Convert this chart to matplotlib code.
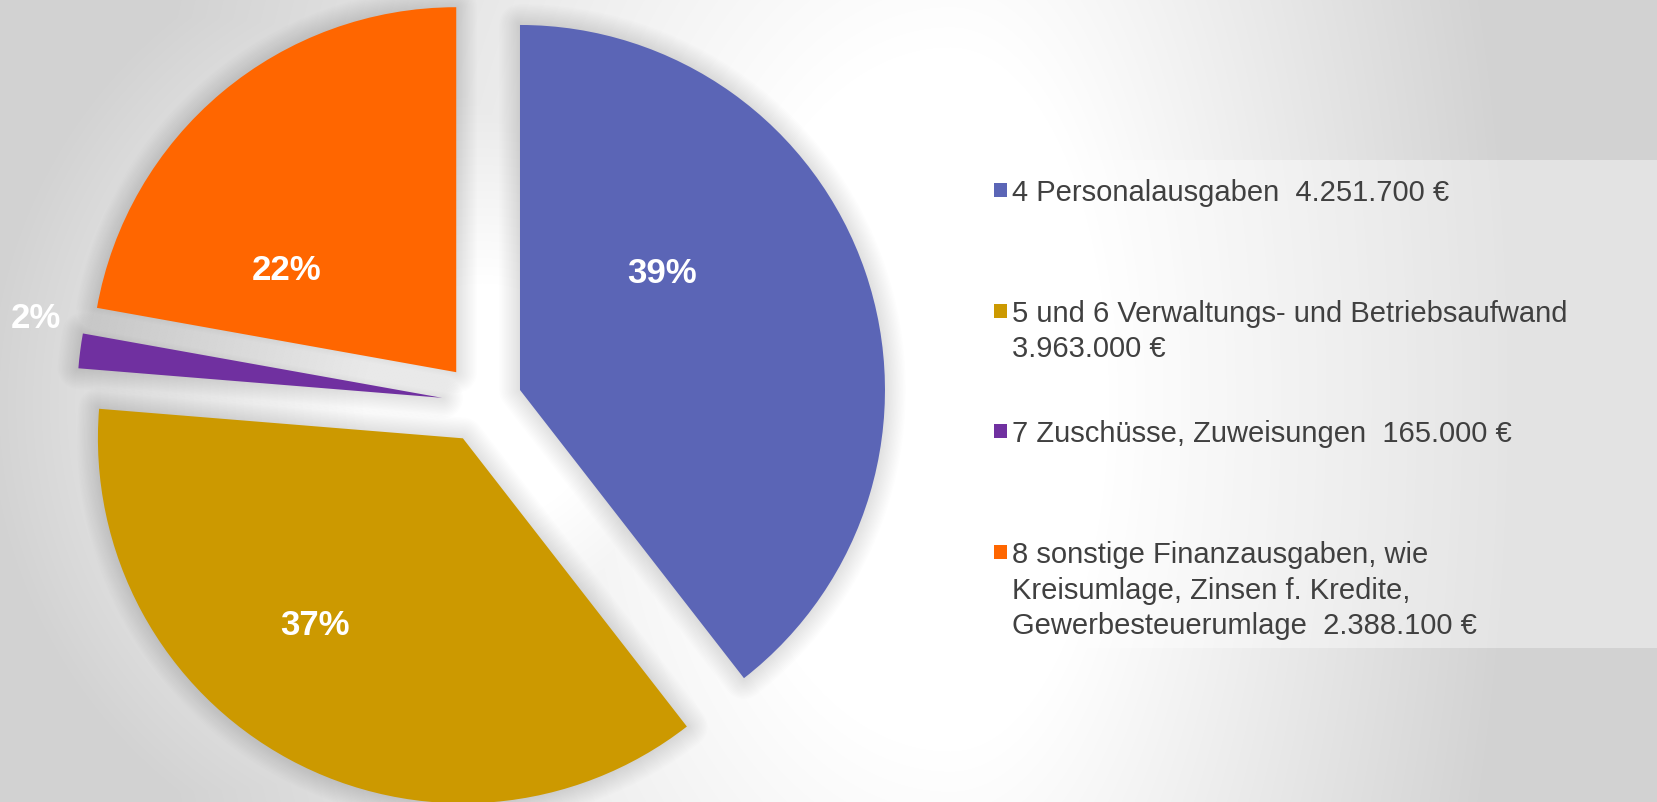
import numpy as np
import matplotlib
matplotlib.use("Agg")
import matplotlib.pyplot as plt
from matplotlib.patches import Rectangle

plt.rcParams["font.family"] = ["Liberation Sans", "DejaVu Sans"]

# data
categories = [
    "4 Personalausgaben  4.251.700 €",
    "5 und 6 Verwaltungs- und Betriebsaufwand\n3.963.000 €",
    "7 Zuschüsse, Zuweisungen  165.000 €",
    "8 sonstige Finanzausgaben, wie\nKreisumlage, Zinsen f. Kredite,\nGewerbesteuerumlage  2.388.100 €",
]
amounts = [4251700, 3963000, 165000, 2388100]
colors = ["#5B65B6", "#CC9900", "#7030A0", "#FF6600"]

W, H = 1657, 803
fig = plt.figure(figsize=(W / 100, H / 100), dpi=100)

# background: soft radial grey gradient
bg = fig.add_axes([0, 0, 1, 1])
yy, xx = np.mgrid[0:H, 0:W]
rx = np.where(xx < 950, 1050.0, 720.0)
d1 = np.sqrt(((xx - 950) / rx) ** 2 + ((yy - 400) / 1600.0) ** 2)
g1 = 255 - 62 * np.clip((d1 - 0.22) / 0.78, 0, 1)
d2 = np.sqrt((xx - 482) ** 2 + (yy - 404) ** 2)
g2 = 255 - 45 * np.clip((d2 - 120) / 380.0, 0, 1)
g = np.maximum(g1, g2) / 255.0
bg.imshow(np.dstack([g, g, g]), extent=[0, W, H, 0], aspect="auto")
bg.set_xlim(0, W)
bg.set_ylim(H, 0)
bg.axis("off")

ax = fig.add_axes([0, 0, 1, 1])
ax.patch.set_alpha(0)
explode = [0.11] * len(amounts)

# soft shadow around slices
for lw in range(30, 1, -2):
    ax.pie(amounts, explode=explode, startangle=90, counterclock=False,
           colors=["none"] * 4,
           wedgeprops=dict(edgecolor=(0, 0, 0, 0.008), linewidth=lw,
                           joinstyle="round"))

wedges, _, autotexts = ax.pie(
    amounts, explode=explode, startangle=90, counterclock=False,
    colors=colors, autopct="%.0f%%",
    wedgeprops=dict(linewidth=0),
    textprops=dict(color="white", fontsize=25, fontweight="bold"),
)

# label offsets from each slice's (exploded) centre, in data units
label_offsets = [(0.389, 0.323), (-0.405, -0.510), (-1.112, 0.219), (-0.466, 0.282)]
for w, t, (dx, dy) in zip(wedges, autotexts, label_offsets):
    cx, cy = w.center
    t.set_position((cx + dx, cy + dy))
    t.set_ha("center")
    t.set_va("center")

ax.set_aspect("auto")
ax.set_xlim(-482 / 365, (W - 482) / 365)
ax.set_ylim((404 - H) / 365, 404 / 365)
ax.axis("off")

# legend
fig.patches.append(Rectangle((990 / W, 1 - 649 / H), (W - 990) / W, (649 - 161) / H,
                             transform=fig.transFigure, facecolor="white",
                             alpha=0.4, linewidth=0, zorder=1))
y0, step = 191, 120.7
for i, (lab, c) in enumerate(zip(categories, colors)):
    yc = y0 + i * step
    fig.patches.append(Rectangle((994 / W, 1 - (yc + 7) / H), 13 / W, 14 / H,
                                 transform=fig.transFigure, facecolor=c,
                                 linewidth=0, zorder=3))
    fig.text(1012 / W, 1 - (yc - 12) / H, lab, ha="left", va="top",
             fontsize=21, color="#404040", linespacing=1.35, zorder=3)

fig.savefig("out.png", dpi=100)
